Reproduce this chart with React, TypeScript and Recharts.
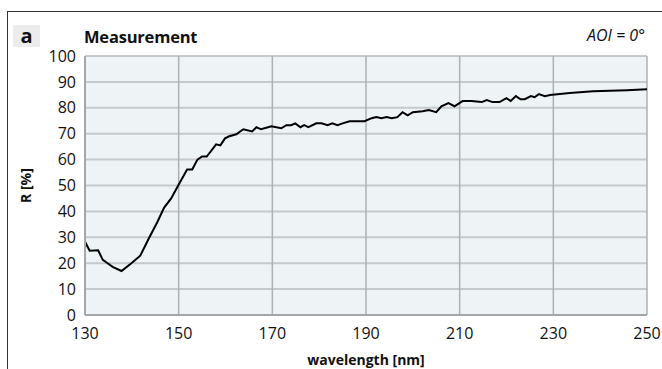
import { LineChart, Line, XAxis, YAxis, CartesianGrid } from 'recharts'

if (typeof document !== 'undefined') document.body.style.margin = '0'

// measured reflectance, AOI = 0°
const wavelength = [
  130, 131, 132.8, 133.8, 135.9, 137.8, 139.9, 141.8, 143.7, 145.4, 146.9, 148.4, 149.9,
  151.8, 152.9, 154, 155, 156, 158, 158.9, 159.9, 160.8, 162.3, 163.8, 165.7, 166.6, 167.6,
  169.8, 171.9, 173, 174, 174.9, 176, 176.8, 177.7, 179.4, 180.5, 181.8, 182.8, 183.9, 185,
  186.5, 189.7, 191.2, 192.2, 193.3, 194.4, 195.5, 196.7, 197.8, 198.9, 200, 202.1, 203.4,
  205, 206.1, 207.6, 208.9, 210.6, 212.5, 214.7, 215.8, 217, 218.5, 220, 220.9, 222, 223,
  223.9, 225.2, 226, 226.9, 228.2, 229.3, 231.4, 233.5, 238.5, 245.7, 250,
]
const reflectance = [
  28.3, 24.8, 25, 21.3, 18.6, 17, 20, 22.9, 29.8, 35.7, 41.5, 45, 50,
  56.2, 56.2, 60, 61.2, 61.2, 65.9, 65.5, 68.2, 69, 69.8, 71.7, 70.9, 72.5, 71.7,
  72.9, 72.1, 73.3, 73.3, 74, 72.5, 73.3, 72.5, 74, 74, 73.3, 74, 73.3, 74,
  74.8, 74.8, 76, 76.4, 76, 76.4, 76, 76.4, 78.3, 77.1, 78.3, 78.7, 79.1,
  78.3, 80.6, 81.8, 80.6, 82.6, 82.6, 82.2, 83, 82.2, 82.2, 83.7, 82.6, 84.5, 83.3,
  83.3, 84.5, 84.1, 85.3, 84.5, 84.9, 85.3, 85.7, 86.4, 86.8, 87.2,
]
const xTicks = [130, 150, 170, 190, 210, 230, 250]
const yTicks = [0, 10, 20, 30, 40, 50, 60, 70, 80, 90, 100]

const data = wavelength.map((w, i) => ({ w, r: reflectance[i] }))

const font = "'Open Sans', sans-serif"

export default function App() {
  return (
    <div style={{ position: 'relative', width: 662, height: 369, overflow: 'hidden', fontFamily: font, background: '#fff' }}>
      <div style={{ position: 'absolute', left: 7, top: 11, width: 660, height: 400, border: '1px solid #333', boxSizing: 'border-box' }} />
      <div style={{ position: 'absolute', left: 13, top: 25, width: 27, height: 22, background: '#ececec' }} />
      <div style={{ position: 'absolute', left: 13, top: 22, width: 27, textAlign: 'center', fontSize: 20, fontWeight: 700, color: '#111' }}>a</div>
      <div style={{ position: 'absolute', left: 84, top: 25, fontSize: 16.5, fontWeight: 700, color: '#111', letterSpacing: -0.2 }}>Measurement</div>
      <div style={{ position: 'absolute', right: 17, top: 24, fontSize: 16, fontStyle: 'italic', color: '#111' }}>AOI = 0°</div>
      <LineChart width={662} height={369} data={data} margin={{ top: 56, right: 15, bottom: 24, left: 0 }}>
        <CartesianGrid fill="#eef3f6" vertical={false} stroke="#c6c9cc" strokeWidth={2} />
        <CartesianGrid horizontal={false} stroke="#aeb1b3" strokeWidth={1.5} />
        <XAxis
          dataKey="w"
          type="number"
          domain={[130, 250]}
          ticks={xTicks}
          tickLine={false}
          tickSize={0}
          tickMargin={13}
          height={30}
          stroke="#a4a7a9"
          strokeWidth={2}
          tick={{ fill: '#111', fontSize: 16, fontFamily: font }}
          label={{ value: 'wavelength [nm]', position: 'bottom', offset: 10, fill: '#111', fontSize: 14, fontWeight: 700, fontFamily: font }}
        />
        <YAxis
          type="number"
          domain={[0, 100]}
          ticks={yTicks}
          tickLine={false}
          tickSize={0}
          tickMargin={9}
          width={85}
          stroke="#a4a7a9"
          strokeWidth={2}
          tick={{ fill: '#111', fontSize: 16, fontFamily: font }}
          label={{
            content: ({ viewBox }: any) => (
              <text
                x={viewBox.x + 25}
                y={viewBox.y + viewBox.height / 2}
                transform={`rotate(-90, ${viewBox.x + 25}, ${viewBox.y + viewBox.height / 2})`}
                textAnchor="middle"
                dominantBaseline="central"
                fill="#111"
                fontSize={14}
                fontWeight={700}
                fontFamily={font}
              >
                R [%]
              </text>
            ),
          }}
        />
        <Line type="linear" dataKey="r" stroke="#000" strokeWidth={2} dot={false} isAnimationActive={false} />
      </LineChart>
    </div>
  )
}
